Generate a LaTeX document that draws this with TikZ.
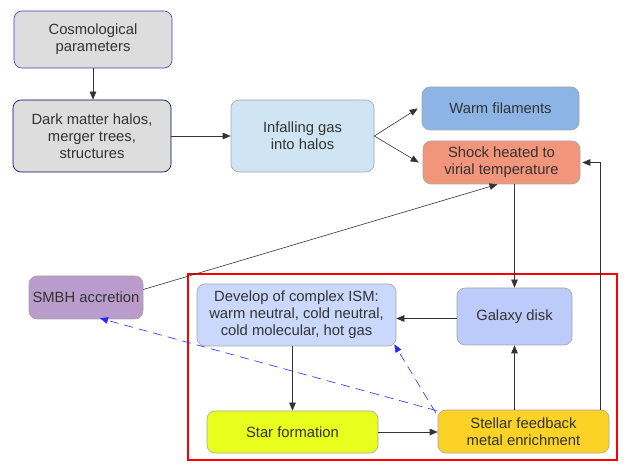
\documentclass[tikz,border=0pt]{standalone}
\usepackage{fontspec}
\setmainfont{Liberation Sans}
\usetikzlibrary{arrows.meta}
\definecolor{txt}{HTML}{333333}
\definecolor{cgray}{HTML}{DDDDDD}
\definecolor{cinfall}{HTML}{D0E5F4}
\definecolor{cwarm}{HTML}{8CB5E6}
\definecolor{cshock}{HTML}{F1957B}
\definecolor{csmbh}{HTML}{B99CCB}
\definecolor{cism}{HTML}{C9D8FB}
\definecolor{cgal}{HTML}{BDCBFA}
\definecolor{cstar}{HTML}{E8FF1E}
\definecolor{cfeed}{HTML}{FCD226}
\tikzset{
  box/.style={draw=black!35, line width=0.6pt, rounded corners=8pt, align=center,
    text=txt, font=\fontsize{14.8}{17}\selectfont, inner sep=1pt},
  arr/.style={-{Triangle[length=8pt,width=6.5pt]}, line width=0.6pt, black!80},
  darr/.style={-{Triangle[length=8pt,width=6.5pt]}, line width=0.6pt, blue!85!white,
    dash pattern=on 9pt off 6pt},
}
\begin{document}
\begin{tikzpicture}[x=1pt,y=-1pt]
\useasboundingbox (0,0) rectangle (630,473);
\node[box, fill=cgray, draw=blue!50!gray, minimum width=158pt, minimum height=57pt] (cosmo) at (93,39.5) {Cosmological\\parameters};
\node[box, fill=cgray, draw=blue!40!black, minimum width=158pt, minimum height=72pt] (dm) at (92,136) {Dark matter halos,\\merger trees,\\structures};
\node[box, fill=cinfall, minimum width=143pt, minimum height=72pt] (infall) at (302.5,136) {Infalling gas\\into halos};
\node[box, fill=cwarm, minimum width=157pt, minimum height=43pt] (warm) at (500.5,108.5) {Warm filaments};
\node[box, fill=cshock, minimum width=157pt, minimum height=43pt] (shock) at (501.5,162.5) {Shock heated to\\virial temperature};
\node[box, fill=csmbh, minimum width=114pt, minimum height=43pt] (smbh) at (86,297.5) {SMBH accretion};
\node[box, fill=cism, minimum width=199pt, minimum height=62pt] (ism) at (296.5,315) {Develop of complex ISM:\\warm neutral, cold neutral,\\cold molecular, hot gas};
\node[box, fill=cgal, minimum width=115pt, minimum height=57pt] (gal) at (514.5,316.5) {Galaxy disk};
\node[box, fill=cstar, minimum width=171pt, minimum height=42pt] (star) at (292.5,432) {Star formation};
\node[box, fill=cfeed, minimum width=171pt, minimum height=43pt] (feed) at (523.5,431.5) {Stellar feedback\\metal enrichment};
\draw[red, line width=2pt] (188,274) rectangle (617,460);
\draw[arr] (cosmo.south) -- (cosmo.south |- dm.north);
\draw[arr] (dm.east) -- (infall.west);
\draw[arr] (infall.east) -- ([xshift=-4pt]warm.west);
\draw[arr] (infall.east) -- ([xshift=-4pt]shock.west);
\draw[arr] (gal.north |- shock.south) -- (gal.north);
\draw[arr] ([xshift=-9pt]feed.north east) |- ([xshift=2pt]shock.east);
\draw[arr] ([yshift=8pt]smbh.east) -- ([xshift=-4pt]shock.south);
\draw[arr] ([yshift=-2pt]gal.west) -- ([yshift=-2pt]gal.west -| ism.east);
\draw[arr] (star.north |- ism.south) -- (star.north);
\draw[arr] (star.east) -- (star.east -| feed.west);
\draw[arr] (gal.south |- feed.north) -- (gal.south);
\draw[darr] ([xshift=-1pt,yshift=-1pt]feed.north west) -- ([xshift=14pt,yshift=1pt]smbh.south);
\draw[darr] ([xshift=-2pt,yshift=-3pt]feed.north west) -- ([xshift=-2pt,yshift=2pt]ism.south east);
\end{tikzpicture}
\end{document}
